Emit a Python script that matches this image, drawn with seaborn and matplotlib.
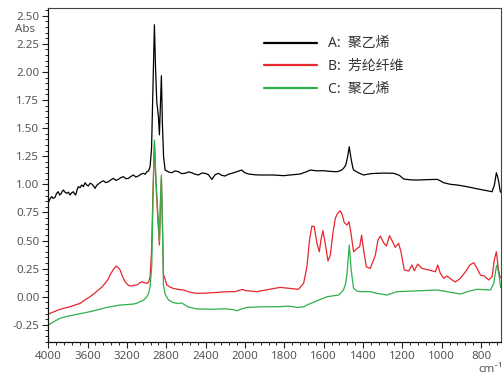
import numpy as np
import pandas as pd
import matplotlib
matplotlib.use("Agg")
import matplotlib.pyplot as plt
from matplotlib.lines import Line2D
import seaborn as sns

# --- spectra (wavenumber cm-1, absorbance) ---
wn_a = [4000, 3983, 3966, 3950, 3932, 3915, 3898, 3885, 3871, 3860, 3847, 3830, 3813, 3795,
        3779, 3762, 3745, 3733, 3721, 3708, 3695, 3678, 3660, 3643, 3626, 3610, 3593, 3575,
        3558, 3540, 3525, 3508, 3491, 3465, 3440, 3415, 3389, 3363, 3338, 3313, 3288, 3262,
        3237, 3211, 3186, 3160, 3135, 3110, 3084, 3058, 3033, 3015, 2998, 2980, 2965, 2950,
        2935, 2921, 2910, 2897, 2880, 2870, 2860, 2850, 2840, 2828, 2812, 2778, 2744, 2710,
        2677, 2643, 2609, 2575, 2541, 2507, 2473, 2440, 2405, 2371, 2337, 2304, 2270, 2236,
        2202, 2168, 2133, 2108, 2083, 2058, 2032, 2007, 1982, 1950, 1923, 1906, 1855, 1804,
        1760, 1719, 1690, 1668, 1635, 1600, 1565, 1532, 1510, 1499, 1488, 1478, 1470, 1461,
        1452, 1448, 1420, 1397, 1360, 1329, 1290, 1244, 1215, 1193, 1160, 1125, 1070, 1023,
        1005, 990, 955, 922, 890, 854, 820, 786, 760, 744, 732, 722, 716, 710, 702, 700]
abs_a = [0.836, 0.87, 0.89, 0.875, 0.884, 0.92, 0.934, 0.905, 0.914, 0.935, 0.949, 0.93, 0.92, 0.93,
         0.905, 0.925, 0.934, 0.915, 0.905, 0.95, 0.979, 0.97, 0.994, 0.98, 1.014, 0.995, 0.985, 1.01,
         1.003, 0.985, 0.964, 0.99, 1.003, 1.02, 1.032, 1.015, 1.023, 1.04, 1.053, 1.035, 1.044, 1.06,
         1.068, 1.05, 1.053, 1.07, 1.083, 1.065, 1.074, 1.09, 1.098, 1.09, 1.112, 1.12, 1.157, 1.32,
         1.90, 2.42, 2.05, 1.735, 1.60, 1.44, 1.70, 1.966, 1.55, 1.25, 1.127, 1.11, 1.103, 1.12,
         1.112, 1.095, 1.098, 1.11, 1.103, 1.09, 1.083, 1.10, 1.098, 1.085, 1.044, 1.085, 1.098, 1.08,
         1.074, 1.09, 1.098, 1.105, 1.112, 1.118, 1.127, 1.105, 1.092, 1.085, 1.083, 1.083, 1.083, 1.077,
         1.085, 1.092, 1.11, 1.127, 1.12, 1.121, 1.115, 1.112, 1.125, 1.142, 1.17, 1.246, 1.335, 1.231,
         1.15, 1.127, 1.10, 1.083, 1.095, 1.098, 1.10, 1.098, 1.08, 1.047, 1.04, 1.038, 1.042, 1.044,
         1.03, 1.014, 1.00, 0.994, 0.985, 0.973, 0.96, 0.949, 0.94, 0.934, 0.994, 1.103, 1.07, 1.023,
         0.934, 0.93]

wn_b = [4000, 3960, 3920, 3881, 3830, 3779, 3730, 3677, 3630, 3576, 3530, 3491, 3450, 3423,
        3395, 3372, 3340, 3311, 3290, 3270, 3245, 3219, 3190, 3168, 3135, 3100, 3075, 3050,
        3025, 2998, 2980, 2965, 2950, 2935, 2921, 2905, 2890, 2870, 2860, 2850, 2840, 2829,
        2810, 2795, 2760, 2728, 2680, 2626, 2560, 2490, 2400, 2321, 2250, 2184, 2100, 2049,
        2020, 2000, 1939, 1880, 1821, 1779, 1728, 1702, 1685, 1672, 1660, 1648, 1634, 1622,
        1614, 1604, 1592, 1578, 1566, 1553, 1541, 1529, 1516, 1507, 1495, 1481, 1471, 1461,
        1448, 1430, 1417, 1407, 1397, 1383, 1363, 1337, 1324, 1312, 1295, 1281, 1265, 1252,
        1236, 1219, 1207, 1190, 1168, 1151, 1139, 1122, 1100, 1066, 1032, 1020, 1007, 990,
        973, 947, 930, 905, 879, 857, 837, 820, 803, 783, 761, 744, 732, 722, 712, 704, 700]
abs_b = [-0.154, -0.14, -0.125, -0.112, -0.10, -0.089, -0.075, -0.059, -0.03, 0.0, 0.03, 0.06, 0.09, 0.119,
         0.15, 0.193, 0.24, 0.273, 0.26, 0.238, 0.18, 0.133, 0.105, 0.095, 0.10, 0.104, 0.12, 0.133,
         0.125, 0.119, 0.13, 0.178, 0.40, 0.95, 1.365, 1.00, 0.75, 0.46, 0.80, 1.06, 0.70, 0.20,
         0.15, 0.104, 0.085, 0.074, 0.065, 0.06, 0.04, 0.03, 0.032, 0.036, 0.04, 0.045, 0.045, 0.06,
         0.065, 0.055, 0.045, 0.065, 0.083, 0.075, 0.066, 0.119, 0.267, 0.504, 0.629, 0.623, 0.475, 0.40,
         0.504, 0.587, 0.475, 0.318, 0.371, 0.564, 0.697, 0.742, 0.765, 0.736, 0.658, 0.638, 0.667, 0.564,
         0.40, 0.43, 0.445, 0.549, 0.415, 0.267, 0.252, 0.371, 0.504, 0.54, 0.48, 0.451, 0.543, 0.498,
         0.439, 0.475, 0.40, 0.238, 0.229, 0.282, 0.231, 0.291, 0.252, 0.238, 0.222, 0.282, 0.208, 0.164,
         0.184, 0.149, 0.131, 0.164, 0.222, 0.282, 0.303, 0.252, 0.193, 0.184, 0.149, 0.178, 0.33, 0.40,
         0.25, 0.18, 0.17]

wn_c = [4000, 3940, 3881, 3810, 3745, 3660, 3576, 3490, 3406, 3340, 3270, 3200, 3135, 3100,
        3067, 3030, 2998, 2980, 2965, 2948, 2935, 2921, 2905, 2890, 2870, 2860, 2850, 2840,
        2829, 2810, 2778, 2728, 2680, 2640, 2626, 2580, 2490, 2400, 2321, 2250, 2184, 2120,
        2083, 2040, 1990, 1920, 1855, 1821, 1779, 1736, 1700, 1685, 1634, 1583, 1524, 1499,
        1488, 1481, 1470, 1460, 1448, 1430, 1414, 1363, 1329, 1278, 1227, 1142, 1023, 973,
        905, 860, 820, 752, 735, 722, 718, 706, 700]
abs_c = [-0.252, -0.22, -0.192, -0.175, -0.163, -0.148, -0.133, -0.115, -0.095, -0.085, -0.074, -0.07, -0.065, -0.058,
         -0.044, -0.03, 0.0, 0.03, 0.089, 0.267, 0.90, 1.394, 1.05, 0.80, 0.49, 0.85, 1.083, 0.65,
         0.10, 0.02, -0.029, -0.053, -0.06, -0.055, -0.065, -0.09, -0.109, -0.11, -0.112, -0.108, -0.109, -0.115,
         -0.125, -0.11, -0.095, -0.09, -0.089, -0.089, -0.083, -0.095, -0.09, -0.074, -0.036, 0.0, 0.015, 0.06,
         0.12, 0.208, 0.46, 0.238, 0.075, 0.05, 0.045, 0.045, 0.03, 0.015, 0.045, 0.051, 0.06, 0.045,
         0.024, 0.05, 0.066, 0.06, 0.119, 0.27, 0.282, 0.164, 0.08]

labels = ["A:  聚乙烯", "B:  芳纶纤维", "C:  聚乙烯"]
colors = ["#000000", "#e8262d", "#2db04b"]
xticks = [4000, 3600, 3200, 2800, 2400, 2000, 1800, 1600, 1400, 1200, 1000, 800]
yticks = [-0.25, 0.0, 0.25, 0.5, 0.75, 1.0, 1.25, 1.5, 1.75, 2.0, 2.25, 2.5]

df = pd.concat([
    pd.DataFrame({"wn": wn_a, "abs": abs_a, "sample": labels[0]}),
    pd.DataFrame({"wn": wn_b, "abs": abs_b, "sample": labels[1]}),
    pd.DataFrame({"wn": wn_c, "abs": abs_c, "sample": labels[2]}),
])

sns.set_style("ticks")
plt.rcParams["font.family"] = ["Noto Sans", "Noto Sans CJK SC", "DejaVu Sans"]

fig = plt.figure(figsize=(5.03, 3.74), dpi=100)
ax = fig.add_axes([0.096, 0.0864, 0.8994, 0.8914])

sns.lineplot(data=df, x="wn", y="abs", hue="sample", hue_order=labels,
             palette=dict(zip(labels, colors)), linewidth=0.9, legend=False,
             sort=False, estimator=None, ax=ax)


# IR style axis: 4000-2000 compressed by half
def fwd(x):
    x = np.asarray(x, dtype=float)
    return np.where(x > 2000, 2000 + (x - 2000) / 2, x)


def inv(u):
    u = np.asarray(u, dtype=float)
    return np.where(u > 2000, 2000 + (u - 2000) * 2, u)


ax.set_xscale("function", functions=(fwd, inv))
ax.set_xlim(4000, 700)
ax.set_ylim(-0.40, 2.566)

ax.set_xticks(xticks)
ax.set_xticklabels([str(t) for t in xticks])
minor_x = [v for v in np.arange(4000, 2000, -80)] + [v for v in np.arange(2000, 690, -40)]
ax.set_xticks(minor_x, minor=True)
ax.set_yticks(yticks)
ax.set_yticklabels([f"{t:.2f}" for t in yticks])
ax.set_yticks(np.arange(-0.40, 2.56, 0.05), minor=True)

ax.tick_params(which="major", length=4.5, width=0.8, color="#222222",
               labelsize=8.3, labelcolor="#555555", pad=2)
ax.tick_params(which="minor", length=2.2, width=0.7, color="#222222")
ax.set_xlabel("")
ax.set_ylabel("")
for side in ["left", "bottom"]:
    ax.spines[side].set_color("#111111")
    ax.spines[side].set_linewidth(0.9)
for side in ["top", "right"]:
    ax.spines[side].set_color("#444444")
    ax.spines[side].set_linewidth(0.8)

fig.text(15 / 503, 1 - 29 / 374, "Abs", fontsize=8.3, color="#555555",
         ha="left", va="center")
fig.text(503 / 503, 1 - 370 / 374, "cm⁻¹", fontsize=8.3, color="#555555",
         ha="right", va="center")

handles = [Line2D([0], [0], color=c, lw=1.6) for c in colors]
ax.legend(handles, labels, loc="upper left", bbox_to_anchor=(264 / 503, 1 - 36.5 / 374),
          bbox_transform=fig.transFigure, frameon=False, fontsize=10,
          handlelength=3.8, handletextpad=0.8, labelspacing=0.55, borderpad=0,
          borderaxespad=0, labelcolor="#333333")

fig.savefig("out.png", dpi=100)
